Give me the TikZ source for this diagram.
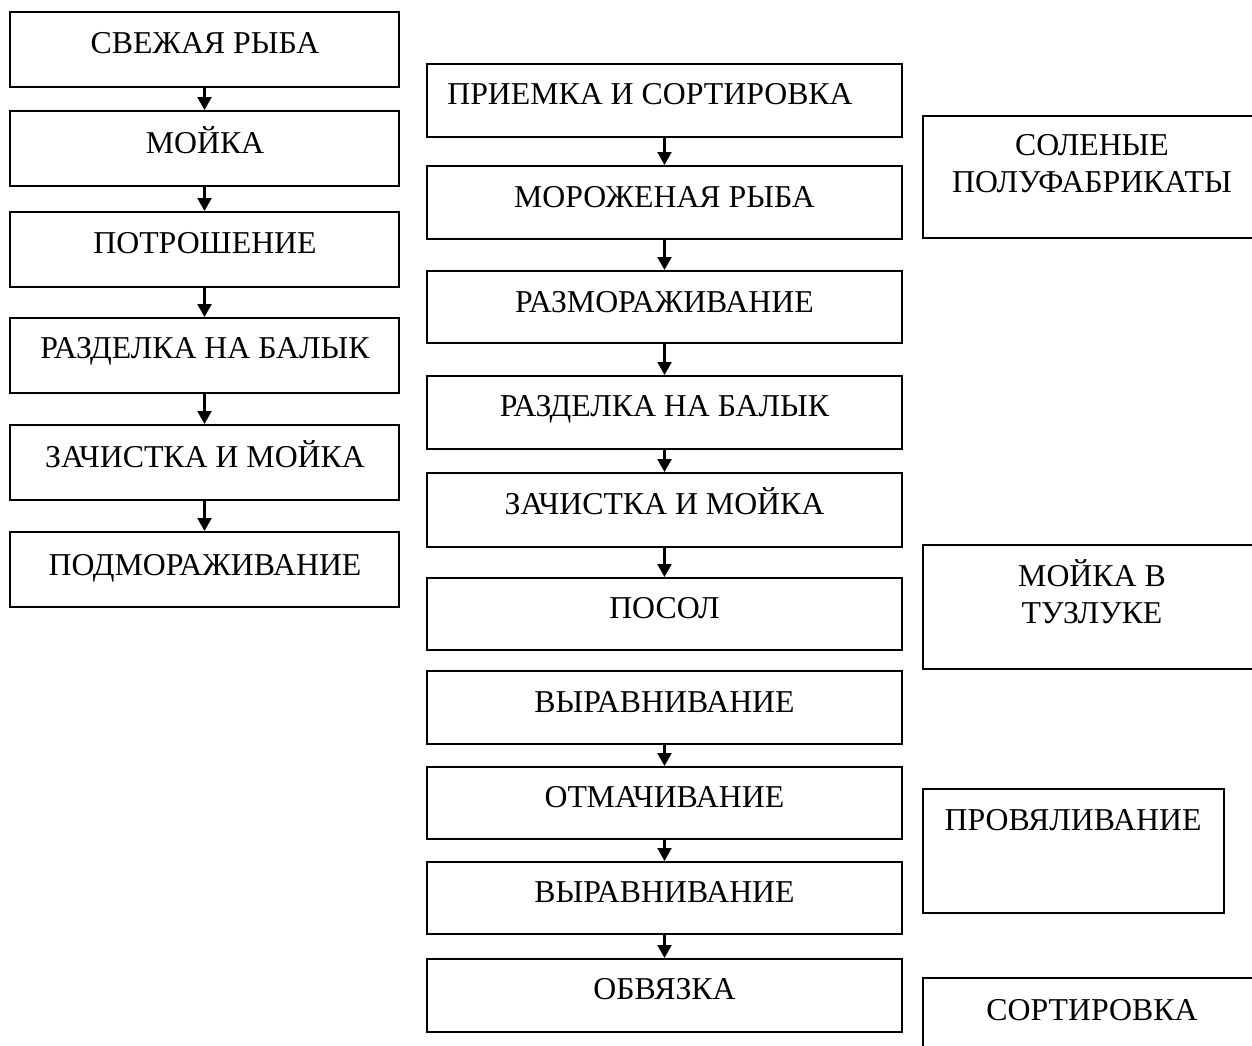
\documentclass[tikz,border=0pt]{standalone}
\usepackage{fontspec}
\setmainfont{Liberation Serif}
\usetikzlibrary{arrows.meta,fit,calc}
\tikzset{
  boxst/.style={draw, line width=1pt, inner sep=0pt},
  txt/.style={anchor=base, inner sep=0pt, align=center, font=\fontsize{15.9}{18.5}\selectfont},
  flow/.style={line width=1.1pt, -{Triangle[width=7pt,length=6.5pt]}}
}
\newcommand\bx[5]{%
  \path (#2,#3) coordinate (#1-a) (#4,#5) coordinate (#1-b);
  \node[boxst, fit=(#1-a)(#1-b)] (#1) {};}
\begin{document}
\begin{tikzpicture}[x=0.5pt,y=-0.5pt]
\useasboundingbox (0,0) rectangle (1252,1045);
% left column
\bx{l1}{10}{12}{399}{87}
\bx{l2}{10}{111}{399}{186}
\bx{l3}{10}{212}{399}{287}
\bx{l4}{10}{318}{399}{393}
\bx{l5}{10}{425}{399}{500}
\bx{l6}{10}{532}{399}{607}
\node[txt] (l1t) at (205,53) {СВЕЖАЯ РЫБА};
\node[txt] (l2t) at (205,153) {МОЙКА};
\node[txt] (l3t) at (205,253) {ПОТРОШЕНИЕ};
\node[txt] (l4t) at (205,358) {РАЗДЕЛКА НА БАЛЫК};
\node[txt] (l5t) at (205,467) {ЗАЧИСТКА И МОЙКА};
\node[txt] (l6t) at (205,575) {ПОДМОРАЖИВАНИЕ};
\foreach \a/\b in {l1/l2,l2/l3,l3/l4,l4/l5,l5/l6}
  \draw[flow] (\a.south) -- (\b.north);
% middle column
\bx{m1}{427}{64}{902}{137}
\bx{m2}{427}{166}{902}{239}
\bx{m3}{427}{271}{902}{343}
\bx{m4}{427}{376}{902}{449}
\bx{m5}{427}{473}{902}{547}
\bx{m6}{427}{578}{902}{650}
\bx{m7}{427}{671}{902}{744}
\bx{m8}{427}{767}{902}{839}
\bx{m9}{427}{862}{902}{934}
\bx{m10}{427}{959}{902}{1032}
\node[txt] (m1t) at (650,104) {ПРИЕМКА И СОРТИРОВКА};
\node[txt] (m2t) at (664.5,207) {МОРОЖЕНАЯ РЫБА};
\node[txt] (m3t) at (664.5,312) {РАЗМОРАЖИВАНИЕ};
\node[txt] (m4t) at (664.5,416) {РАЗДЕЛКА НА БАЛЫК};
\node[txt] (m5t) at (664.5,514) {ЗАЧИСТКА И МОЙКА};
\node[txt] (m6t) at (664.5,618) {ПОСОЛ};
\node[txt] (m7t) at (664.5,712) {ВЫРАВНИВАНИЕ};
\node[txt] (m8t) at (664.5,807) {ОТМАЧИВАНИЕ};
\node[txt] (m9t) at (664.5,902) {ВЫРАВНИВАНИЕ};
\node[txt] (m10t) at (664.5,999) {ОБВЯЗКА};
\foreach \a/\b in {m1/m2,m2/m3,m3/m4,m4/m5,m5/m6,m7/m8,m8/m9,m9/m10}
  \draw[flow] ($(\a.south west)!0.5!(\a.south east)$) -- ($(\b.north west)!0.5!(\b.north east)$);
% right column
\bx{r1}{923}{116}{1262}{238}
\bx{r2}{923}{545}{1262}{669}
\bx{r3}{923}{789}{1224}{913}
\bx{r4}{923}{978}{1262}{1060}
\node[txt] (r1t) at (1092,192) {СОЛЕНЫЕ\\ПОЛУФАБРИКАТЫ};
\node[txt] (r2t) at (1092,623) {МОЙКА В\\ТУЗЛУКЕ};
\node[txt] (r3t) at (1073,830) {ПРОВЯЛИВАНИЕ};
\node[txt] (r4t) at (1092,1020) {СОРТИРОВКА};
\end{tikzpicture}
\end{document}
